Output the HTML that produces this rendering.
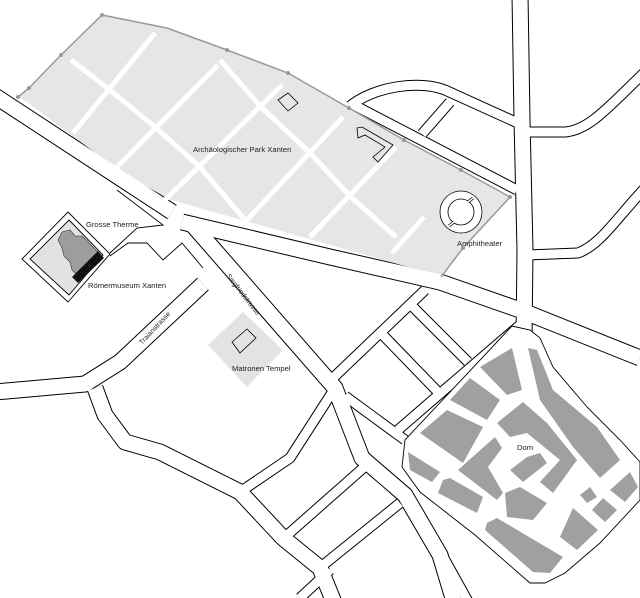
<!DOCTYPE html>
<html><head><meta charset="utf-8"><style>
html,body{margin:0;padding:0;background:#fff;}
svg{display:block;}
text{font-family:"Liberation Sans",sans-serif;font-size:7.6px;fill:#222;}
</style></head><body>
<svg width="640" height="598" viewBox="0 0 640 598" xmlns="http://www.w3.org/2000/svg">
<rect width="640" height="598" fill="#fff"/>
<defs>
<g id="maj" fill="none" stroke-linejoin="round">
<path d="M-5,96 L172,212"/>
<path d="M182,222 L330,257 L440,282 L520,310 L640,358"/>
<path d="M520,-5 L522,120 L525,250 L524,340"/>
<path d="M-5,392 L85,384 L120,362 L203,284"/>
<path d="M95,388 L105,415 L125,442 L160,452 L240,492 L283,538 L320,568 L335,605"/>
<path d="M190,222 L335,388 L362,458 L405,495 L440,555 L455,605"/>
</g>
<g id="min" fill="none" stroke-linejoin="round">
<path d="M350,106 C375,86 420,80 445,90 L520,124"/>
<path d="M350,103 L517,190"/>
<path d="M527,132 L565,132 C590,130 610,105 645,72"/>
<path d="M527,255 L578,253 C600,245 615,220 645,188"/>
<path d="M422,134 L450,102"/>
<path d="M335,388 L290,458 L240,492"/>
<path d="M285,537 L370,462"/>
<path d="M322,566 L400,503"/>
<path d="M333,378 L425,290"/>
<path d="M345,396 L405,440"/>
<path d="M398,430 L450,385 L520,325"/>
<path d="M408,302 L468,362"/>
<path d="M378,330 L438,392"/>
<path d="M407,503 L445,560 L470,605"/>
<path d="M300,598 L330,570"/>
<path d="M640,470 L600,500 L560,520"/>
</g>
</defs>
<use href="#maj" stroke="#000" stroke-width="17"/>
<use href="#min" stroke="#000" stroke-width="11"/>
<!-- park -->
<polygon points="18,97 29,88 61,55 102,15 167,28 227,50 288,73 349,108 404,140 461,170 510,197 463,248 441,275 408,267 253,223 171,200 122,173 82,143 27,102" fill="#e6e6e6"/>
<g stroke="#fff" stroke-width="5" fill="none">
<line x1="73" y1="133" x2="155" y2="33"/>
<line x1="116" y1="168" x2="218" y2="65"/>
<line x1="165" y1="200" x2="282" y2="85"/>
<line x1="245" y1="222" x2="343" y2="117"/>
<line x1="310" y1="237" x2="396" y2="147"/>
<line x1="392" y1="253" x2="424" y2="217"/>
<polyline points="71,60 110,90 155,127 200,167 245,220"/>
<polyline points="220,60 261,107 310,153 351,197 396,237"/>
</g>
<use href="#maj" stroke="#fff" stroke-width="15"/>
<use href="#min" stroke="#fff" stroke-width="9"/>
<!-- park boundary grey -->
<polyline points="18,97 29,88 61,55 102,15 167,28 227,50 288,73 349,108 404,140 461,170 510,197 463,248 441,277" fill="none" stroke="#999" stroke-width="1.5"/>
<g fill="#999"><circle cx="18" cy="97" r="2"/><circle cx="29" cy="88" r="2"/><circle cx="61" cy="55" r="2"/><circle cx="102" cy="15" r="2"/><circle cx="227" cy="50" r="2"/><circle cx="288" cy="73" r="2"/><circle cx="349" cy="108" r="2"/><circle cx="404" cy="140" r="2"/><circle cx="461" cy="170" r="2"/><circle cx="510" cy="197" r="2"/><circle cx="463" cy="248" r="2"/></g>
<!-- park buildings -->
<polygon points="278,100 288,93 298,103 288,111" fill="none" stroke="#000" stroke-width="0.8"/>
<polygon points="357,128 362,127 393,145 378,162 373,157 385,147 365,135 358,138" fill="none" stroke="#000" stroke-width="0.8"/>
<circle cx="461" cy="212" r="21" fill="#fff" stroke="#000" stroke-width="0.8"/>
<circle cx="461" cy="212" r="13" fill="#fff" stroke="#000" stroke-width="0.8"/>
<line x1="449" y1="226" x2="454" y2="222" stroke="#000" stroke-width="3"/>
<line x1="473" y1="198" x2="468" y2="202" stroke="#000" stroke-width="3"/>
<line x1="449" y1="226" x2="454" y2="222" stroke="#fff" stroke-width="1.5"/>
<line x1="473" y1="198" x2="468" y2="202" stroke="#fff" stroke-width="1.5"/>
<!-- Therme -->
<polygon points="68,212 110,254 68,302 22,259" fill="#fff" stroke="#000" stroke-width="0.9"/>
<polygon points="69,220 103,255 69,295 30,259" fill="#e2e2e2" stroke="#000" stroke-width="0.9"/>
<polygon points="62,232 70,230 75,236 82,236 88,242 94,248 98,252 92,262 80,272 78,276 72,270 70,262 64,256 62,248 58,240" fill="#9d9d9d" stroke="#333" stroke-width="0.6"/>
<polygon points="72,277 98,251 104,258 78,283" fill="#111"/>
<polyline points="110,253 137,228 163,225 117,190" fill="#fff" stroke="#000" stroke-width="0.9"/>
<polyline points="110,256 128,243 147,243 163,260 182,243 203,268" fill="none" stroke="#000" stroke-width="0.9"/>
<!-- Matronen Tempel -->
<polygon points="208,345 243,312 283,350 247,387" fill="#e3e3e3"/>
<polygon points="232,342 247,329 256,338 240,353" fill="none" stroke="#000" stroke-width="0.8"/>
<!-- old town -->
<polygon points="512,326 530,330 540,338 553,367 587,407 620,440 640,462 640,500 600,543 565,573 545,583 530,583 475,535 420,492 402,467 405,440" fill="#fff" stroke="#000" stroke-width="0.9"/>
<g fill="#a0a0a0">
<polygon points="480,367 512,348 522,390 507,395"/>
<polygon points="450,400 470,378 500,400 487,420"/>
<polygon points="420,433 447,410 483,427 463,463"/>
<polygon points="408,452 440,472 432,482 410,470"/>
<polygon points="458,470 495,437 502,448 488,467 503,493 497,500"/>
<polygon points="497,423 523,402 547,423 577,460 553,493 540,482 560,460 527,433 510,437"/>
<polygon points="510,470 527,457 540,453 547,463 523,482"/>
<polygon points="528,348 537,350 553,390 597,427 620,460 600,478 573,447 540,400"/>
<polygon points="505,493 520,487 547,503 533,520 507,517"/>
<polygon points="443,480 450,478 483,497 477,513 438,493"/>
<polygon points="487,523 497,518 563,557 550,573 533,572 485,530"/>
<polygon points="560,537 573,508 598,530 577,550"/>
<polygon points="580,495 590,487 597,497 587,503"/>
<polygon points="592,510 603,498 617,510 605,522"/>
<polygon points="610,490 630,472 638,487 625,502"/>
</g>
<!-- labels -->
<text x="193" y="152">Archäologischer Park Xanten</text>
<text x="86" y="227">Grosse Therme</text>
<text x="88" y="288">Römermuseum Xanten</text>
<text x="457" y="246">Amphitheater</text>
<text x="232" y="371">Matronen Tempel</text>
<text x="517" y="450">Dom</text>
<text transform="translate(142,345) rotate(-47)" style="font-size:7px">Traianstrasse</text>
<text transform="translate(226,276) rotate(52)" style="font-size:7px">Siegfriedstrasse</text>
</svg>
</body></html>
